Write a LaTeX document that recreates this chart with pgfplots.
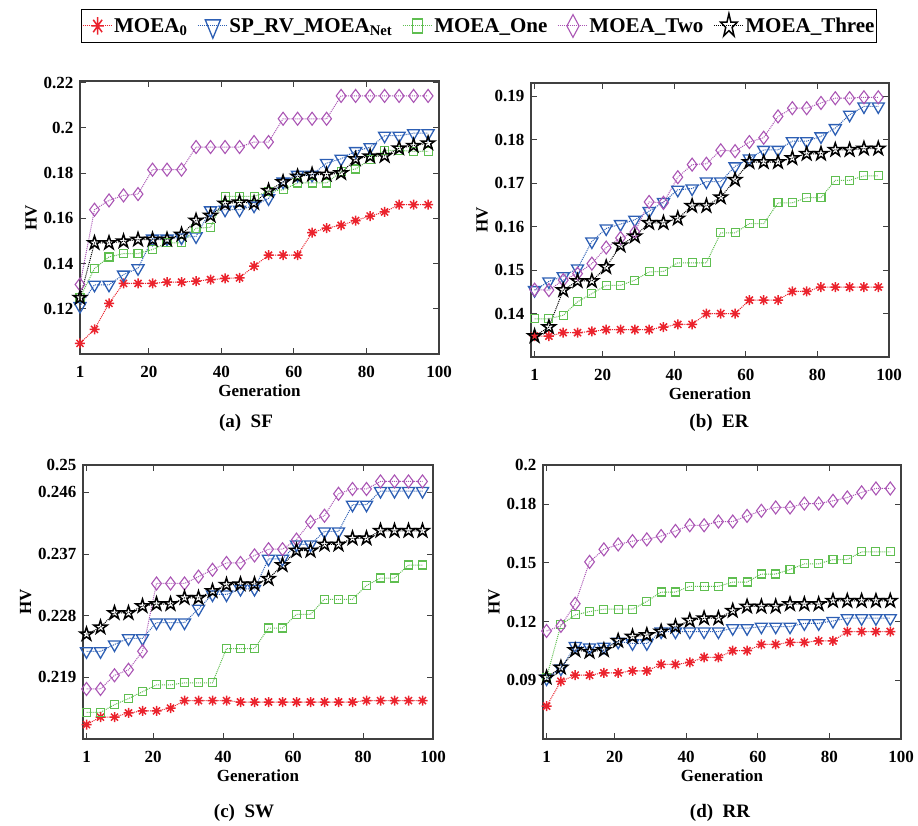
\documentclass[border=0pt]{standalone}
\usepackage{fontspec}
\setmainfont{Liberation Serif}
\usepackage{pgfplots}
\usepackage{pgfplotstable}
\pgfplotsset{compat=1.18}

\definecolor{cRed}{RGB}{235,35,45}
\definecolor{cBlue}{RGB}{45,95,180}
\definecolor{cGreen}{RGB}{95,190,80}
\definecolor{cPurple}{RGB}{170,85,180}
\definecolor{cFrame}{RGB}{64,64,64}

\pgfdeclareplotmark{pentagram}{%
  \pgfpathmoveto{\pgfpointpolar{90}{\pgfplotmarksize}}%
  \pgfpathlineto{\pgfpointpolar{126}{0.382\pgfplotmarksize}}%
  \pgfpathlineto{\pgfpointpolar{162}{\pgfplotmarksize}}%
  \pgfpathlineto{\pgfpointpolar{198}{0.382\pgfplotmarksize}}%
  \pgfpathlineto{\pgfpointpolar{234}{\pgfplotmarksize}}%
  \pgfpathlineto{\pgfpointpolar{270}{0.382\pgfplotmarksize}}%
  \pgfpathlineto{\pgfpointpolar{306}{\pgfplotmarksize}}%
  \pgfpathlineto{\pgfpointpolar{342}{0.382\pgfplotmarksize}}%
  \pgfpathlineto{\pgfpointpolar{18}{\pgfplotmarksize}}%
  \pgfpathlineto{\pgfpointpolar{54}{0.382\pgfplotmarksize}}%
  \pgfpathclose
  \pgfusepathqstroke
}
\pgfdeclareplotmark{ast8}{%
  \pgfpathmoveto{\pgfqpoint{-\pgfplotmarksize}{0pt}}%
  \pgfpathlineto{\pgfqpoint{\pgfplotmarksize}{0pt}}%
  \pgfpathmoveto{\pgfqpoint{0pt}{-\pgfplotmarksize}}%
  \pgfpathlineto{\pgfqpoint{0pt}{\pgfplotmarksize}}%
  \pgfpathmoveto{\pgfpointpolar{45}{\pgfplotmarksize}}%
  \pgfpathlineto{\pgfpointpolar{225}{\pgfplotmarksize}}%
  \pgfpathmoveto{\pgfpointpolar{135}{\pgfplotmarksize}}%
  \pgfpathlineto{\pgfpointpolar{315}{\pgfplotmarksize}}%
  \pgfusepathqstroke
}

% x a(MOEA0) b(SP_RV) c(One) d(Two) e(Three)
\pgfplotstableread{
x a b c d e
1 0.1047 0.1212 0.1249 0.1307 0.1249
5 0.1109 0.1306 0.1378 0.1638 0.1491
9 0.1224 0.1306 0.1429 0.1679 0.1491
13 0.1312 0.1351 0.1444 0.1701 0.1498
17 0.1312 0.1379 0.1444 0.1707 0.1506
21 0.1312 0.1510 0.1462 0.1815 0.1506
25 0.1318 0.1510 0.1491 0.1815 0.1506
29 0.1318 0.1515 0.1491 0.1815 0.1528
33 0.1322 0.1520 0.1556 0.1915 0.1590
37 0.1329 0.1635 0.1560 0.1915 0.1612
41 0.1334 0.1638 0.1697 0.1915 0.1665
45 0.1337 0.1638 0.1697 0.1915 0.1671
49 0.1388 0.1656 0.1697 0.1937 0.1668
53 0.1437 0.1688 0.1718 0.1937 0.1722
57 0.1437 0.1762 0.1726 0.2040 0.1760
61 0.1437 0.1792 0.1756 0.2040 0.1785
65 0.1537 0.1792 0.1756 0.2040 0.1793
69 0.1557 0.1844 0.1756 0.2040 0.1793
73 0.1569 0.1863 0.1807 0.2141 0.1800
77 0.1590 0.1897 0.1818 0.2141 0.1862
81 0.1610 0.1914 0.1859 0.2141 0.1874
85 0.1628 0.1965 0.1900 0.2141 0.1876
89 0.1660 0.1965 0.1900 0.2141 0.1910
93 0.1660 0.1976 0.1896 0.2141 0.1921
97 0.1660 0.1976 0.1896 0.2141 0.1932
}\tSF

\pgfplotstableread{
x a b c d e
1 0.1348 0.1454 0.1388 0.1455 0.1348
5 0.1348 0.1474 0.1388 0.1454 0.1369
9 0.1356 0.1486 0.1396 0.1477 0.1454
13 0.1356 0.1504 0.1427 0.1492 0.1475
17 0.1359 0.1566 0.1446 0.1515 0.1475
21 0.1363 0.1596 0.1465 0.1552 0.1507
25 0.1363 0.1606 0.1465 0.1574 0.1557
29 0.1363 0.1616 0.1477 0.1588 0.1578
33 0.1363 0.1636 0.1496 0.1657 0.1609
37 0.1369 0.1657 0.1497 0.1655 0.1609
41 0.1375 0.1685 0.1517 0.1714 0.1619
45 0.1375 0.1688 0.1517 0.1743 0.1648
49 0.1400 0.1704 0.1517 0.1745 0.1648
53 0.1400 0.1704 0.1586 0.1776 0.1668
57 0.1400 0.1739 0.1586 0.1774 0.1708
61 0.1431 0.1757 0.1607 0.1795 0.1749
65 0.1431 0.1777 0.1607 0.1805 0.1749
69 0.1431 0.1777 0.1655 0.1854 0.1749
73 0.1451 0.1797 0.1655 0.1873 0.1758
77 0.1451 0.1797 0.1667 0.1873 0.1768
81 0.1461 0.1808 0.1667 0.1885 0.1768
85 0.1461 0.1827 0.1707 0.1896 0.1777
89 0.1461 0.1858 0.1707 0.1896 0.1777
93 0.1461 0.1877 0.1717 0.1898 0.1780
97 0.1461 0.1877 0.1717 0.1898 0.1780
}\tER

\pgfplotstableread{
x a b c d e
1 0.2121 0.2228 0.2139 0.2173 0.2253
5 0.2132 0.2228 0.2139 0.2173 0.2263
9 0.2132 0.2238 0.2150 0.2193 0.2284
13 0.2138 0.2247 0.2159 0.2201 0.2284
17 0.2141 0.2247 0.2169 0.2228 0.2294
21 0.2141 0.2270 0.2179 0.2327 0.2297
25 0.2145 0.2270 0.2179 0.2327 0.2297
29 0.2156 0.2270 0.2182 0.2327 0.2306
33 0.2156 0.2290 0.2182 0.2337 0.2306
37 0.2156 0.2311 0.2182 0.2347 0.2316
41 0.2156 0.2311 0.2232 0.2357 0.2325
45 0.2154 0.2319 0.2232 0.2357 0.2326
49 0.2154 0.2319 0.2232 0.2368 0.2326
53 0.2154 0.2363 0.2262 0.2377 0.2334
57 0.2154 0.2363 0.2262 0.2377 0.2354
61 0.2154 0.2384 0.2282 0.2391 0.2375
65 0.2154 0.2384 0.2282 0.2417 0.2375
69 0.2154 0.2403 0.2304 0.2426 0.2384
73 0.2154 0.2403 0.2304 0.2458 0.2384
77 0.2154 0.2442 0.2304 0.2465 0.2393
81 0.2156 0.2442 0.2324 0.2465 0.2393
85 0.2156 0.2462 0.2335 0.2476 0.2404
89 0.2156 0.2462 0.2335 0.2476 0.2404
93 0.2156 0.2462 0.2354 0.2476 0.2404
97 0.2156 0.2462 0.2354 0.2476 0.2404
}\tSW

\pgfplotstableread{
x a b c d e
1 0.0768 0.0909 0.0914 0.1152 0.0914
5 0.0895 0.0960 0.1183 0.1178 0.0965
9 0.0926 0.1075 0.1234 0.1291 0.1054
13 0.0926 0.1068 0.1251 0.1505 0.1046
17 0.0938 0.1071 0.1263 0.1569 0.1054
21 0.0938 0.1097 0.1263 0.1594 0.1102
25 0.0948 0.1089 0.1263 0.1611 0.1123
29 0.0948 0.1089 0.1303 0.1620 0.1131
33 0.0981 0.1149 0.1351 0.1637 0.1149
37 0.0981 0.1149 0.1351 0.1663 0.1174
41 0.0991 0.1149 0.1380 0.1692 0.1205
45 0.1017 0.1149 0.1380 0.1692 0.1217
49 0.1017 0.1149 0.1380 0.1711 0.1217
53 0.1051 0.1166 0.1402 0.1711 0.1255
57 0.1051 0.1166 0.1402 0.1740 0.1277
61 0.1083 0.1174 0.1443 0.1766 0.1277
65 0.1083 0.1174 0.1443 0.1783 0.1277
69 0.1094 0.1174 0.1466 0.1783 0.1289
73 0.1094 0.1191 0.1495 0.1803 0.1289
77 0.1101 0.1191 0.1495 0.1803 0.1289
81 0.1101 0.1203 0.1517 0.1817 0.1306
85 0.1149 0.1217 0.1517 0.1834 0.1306
89 0.1149 0.1217 0.1556 0.1860 0.1306
93 0.1149 0.1217 0.1556 0.1880 0.1306
97 0.1149 0.1217 0.1556 0.1880 0.1306
}\tRR

\pgfplotsset{
  hvaxis/.style={
    anchor=south west,
    scale only axis,
    axis line style={cFrame, line width=1.3pt},
    every tick/.style={cFrame, line width=1pt},
    major tick length=6pt,
    tick align=inside,
    /pgf/number format/assume math mode=true,
    ticklabel style={font=\fontsize{17}{20}\selectfont\bfseries},
    xticklabel style={yshift=-9pt},
    yticklabel style={xshift=-3pt, /pgf/number format/fixed, /pgf/number format/precision=3},
    label style={font=\fontsize{17}{20}\selectfont\bfseries},
    scaled y ticks=false,
    xtick={1,20,40,60,80,100},
    xlabel={Generation},
    ylabel={HV},
    xmax=100,
    legend image code/.code={%
      \draw[mark repeat=2,mark phase=2,every mark/.append style={xscale=1.25,yscale=1.75}]
        plot coordinates {(0pt,0pt) (15pt,0pt) (30pt,0pt)};},
  },
  sA/.style={color=cRed, densely dotted, line width=1pt, mark=ast8, mark size=5pt, mark options={solid, line width=1.5pt}},
  sB/.style={color=cBlue, densely dotted, line width=1pt, mark=triangle, mark size=7pt, mark options={solid, rotate=180, line width=1.3pt}},
  sC/.style={color=cGreen, densely dotted, line width=1pt, mark=square, mark size=4pt, mark options={solid, line width=1.1pt}},
  sD/.style={color=cPurple, densely dotted, line width=1pt, mark=diamond, mark size=6.5pt, mark options={solid, line width=1.1pt}},
  sE/.style={color=black, densely dotted, line width=1pt, mark=pentagram, mark size=7pt, mark options={solid, line width=1.5pt}},
}

\newcommand{\allseries}[1]{%
  \addplot[sA] table[x=x,y=a] {#1};
  \addplot[sB] table[x=x,y=b] {#1};
  \addplot[sC] table[x=x,y=c] {#1};
  \addplot[sD] table[x=x,y=d] {#1};
  \addplot[sE] table[x=x,y=e] {#1};
}

\begin{document}
\begin{tikzpicture}
\path[use as bounding box] (0pt,0pt) rectangle (918pt,826pt);

% (a) SF
\begin{axis}[hvaxis, at={(80pt,472pt)}, width=359pt, height=273pt,
  xmin=1, ymin=0.10, ymax=0.2207,
  ytick={0.12,0.14,0.16,0.18,0.2,0.22},
  legend columns=5,
  legend style={at={(1.111,1.2015)}, anchor=center, draw=black, line width=0.9pt,
    font=\fontsize{21}{24}\selectfont\bfseries, inner xsep=1pt, inner ysep=4pt,
    /tikz/every even column/.append style={column sep=9pt},
    nodes={inner sep=1pt}},
]
\allseries{\tSF}
\legend{MOEA\textsubscript{0}, SP\_RV\_MOEA\textsubscript{Net}, MOEA\_One, MOEA\_Two, MOEA\_Three}
\end{axis}

% (b) ER
\begin{axis}[hvaxis, at={(531pt,469pt)}, width=358pt, height=274pt,
  xmin=0, ymin=0.13, ymax=0.1931,
  ytick={0.14,0.15,0.16,0.17,0.18,0.19},
]
\allseries{\tER}
\end{axis}

% (c) SW
\begin{axis}[hvaxis, at={(83pt,87pt)}, width=350pt, height=274pt,
  xmin=0, ymin=0.21, ymax=0.25,
  ytick={0.219,0.228,0.237,0.246,0.25},
]
\allseries{\tSW}
\end{axis}

% (d) RR
\begin{axis}[hvaxis, at={(543pt,87pt)}, width=358pt, height=274pt,
  xmin=0, ymin=0.06, ymax=0.2,
  ytick={0.09,0.12,0.15,0.18,0.2},
]
\allseries{\tRR}
\end{axis}

\begin{scope}[every node/.style={font=\fontsize{19}{22}\selectfont\bfseries}]
\node at (246pt,403pt) {(a)\ \ SF};
\node at (719pt,403pt) {(b)\ \ ER};
\node at (244pt,13pt) {(c)\ \ SW};
\node at (720pt,13pt) {(d)\ \ RR};
\end{scope}
\end{tikzpicture}
\end{document}
